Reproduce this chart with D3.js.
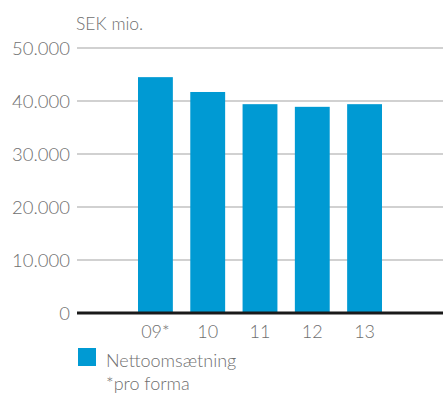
<!DOCTYPE html>
<html>
<head>
<meta charset="utf-8">
<script src="https://cdn.jsdelivr.net/npm/d3@7"></script>
<style>
  html, body { margin: 0; padding: 0; background: #fff; }
  svg text { font-family: Lato, "Open Sans", sans-serif; font-weight: 300; fill: #6f6f6f; }
</style>
</head>
<body>
<svg id="chart" width="443" height="394"></svg>
<script>
// Net revenue per year, SEK million
const categories = ["09*", "10", "11", "12", "13"];
const values = [44500, 41700, 39400, 38900, 39400];
const yTicks = [0, 10000, 20000, 30000, 40000, 50000];
const unitLabel = "SEK mio.";
const legendLabel = "Nettoomsætning";
const footnote = "*pro forma";

const svg = d3.select("#chart");
const plotLeft = 77, plotRight = 443, plotTop = 48, plotBottom = 313;
const step = (plotRight - plotLeft) / 7;

const y = d3.scaleLinear().domain([0, 50000]).range([plotBottom, plotTop]);
const x = d3.scaleBand()
  .domain(categories)
  .range([plotLeft + step, plotLeft + 6 * step])
  .paddingInner(1 / 3)
  .paddingOuter(1 / 6);

const fmt = v => d3.format(",")(v).replace(/,/g, ".");

// gridlines
svg.append("g")
  .selectAll("line")
  .data(yTicks.filter(t => t > 0))
  .join("line")
  .attr("x1", plotLeft).attr("x2", plotRight)
  .attr("y1", d => y(d)).attr("y2", d => y(d))
  .attr("stroke", "#c2c2c2").attr("stroke-width", 1.5);

// y tick labels
svg.append("g")
  .selectAll("text")
  .data(yTicks)
  .join("text")
  .attr("x", 70)
  .attr("y", d => y(d) + 7)
  .attr("text-anchor", "end")
  .style("font-size", "18.5px")
  .text(d => fmt(d));

// bars
svg.append("g")
  .selectAll("rect")
  .data(values)
  .join("rect")
  .attr("x", (d, i) => x(categories[i]))
  .attr("width", x.bandwidth())
  .attr("y", d => y(d))
  .attr("height", d => y(0) - y(d))
  .attr("fill", "#009ad3");

// baseline
svg.append("line")
  .attr("x1", plotLeft).attr("x2", plotRight)
  .attr("y1", y(0)).attr("y2", y(0))
  .attr("stroke", "#1a1a1a").attr("stroke-width", 3);

// category labels
svg.append("g")
  .selectAll("text")
  .data(categories)
  .join("text")
  .attr("x", d => x(d) + x.bandwidth() / 2)
  .attr("y", 338)
  .attr("text-anchor", "middle")
  .style("font-size", "18px")
  .text(d => d);

// unit label
svg.append("text")
  .attr("x", 76).attr("y", 30)
  .style("font-size", "17.5px")
  .text(unitLabel);

// legend
svg.append("rect")
  .attr("x", 78).attr("y", 348)
  .attr("width", 18).attr("height", 18)
  .attr("fill", "#009ad3");
svg.append("text")
  .attr("x", 106).attr("y", 367)
  .style("font-size", "18px")
  .text(legendLabel);
svg.append("text")
  .attr("x", 106).attr("y", 390)
  .style("font-size", "18px")
  .text(footnote);
</script>
</body>
</html>
